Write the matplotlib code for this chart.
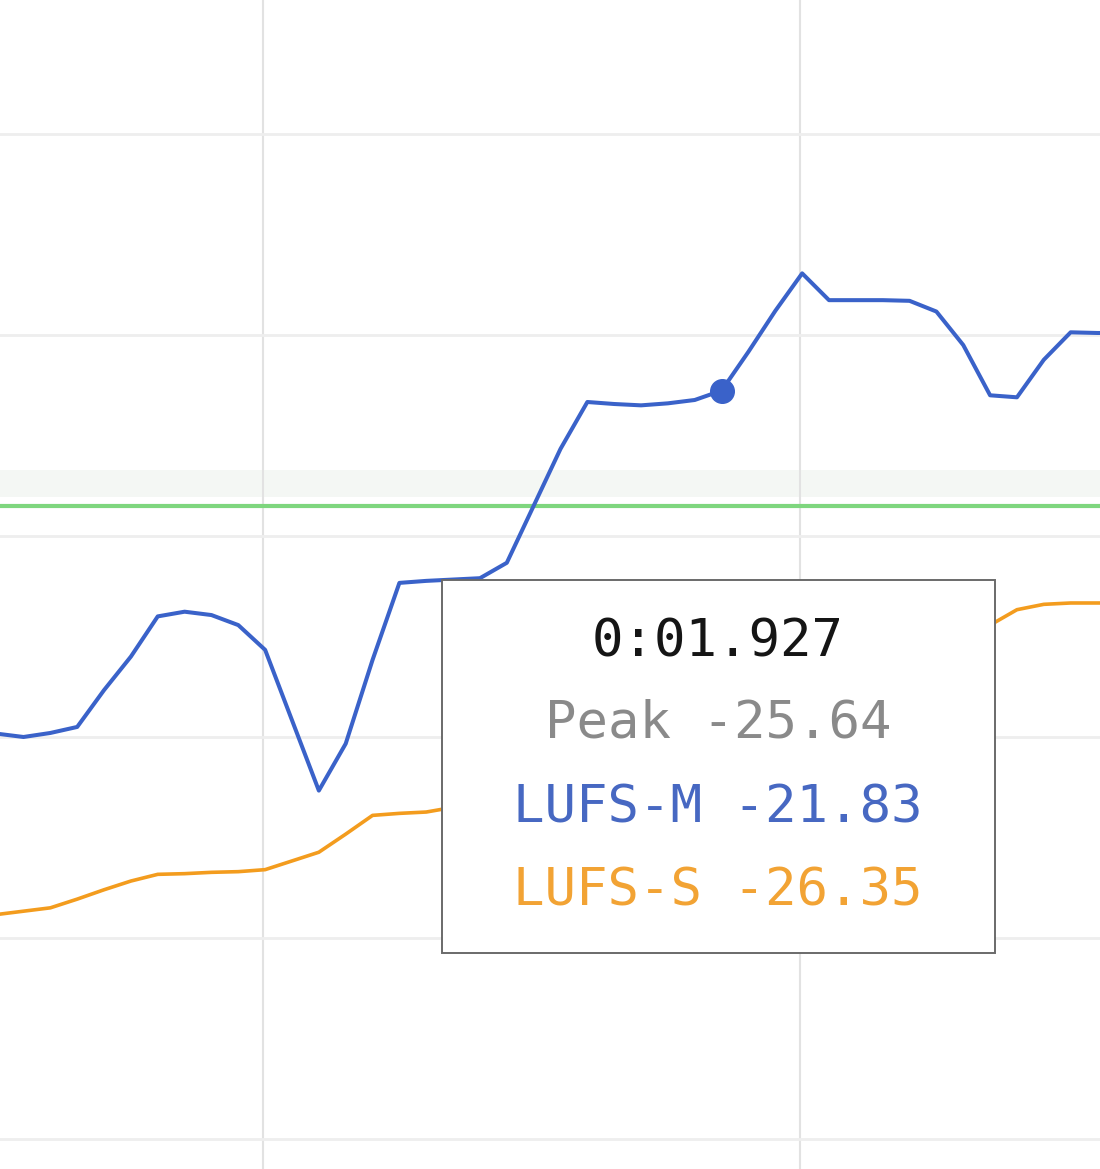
import matplotlib
matplotlib.use("Agg")
import matplotlib.pyplot as plt
from matplotlib.patches import Rectangle
import numpy as np

# ---- data ----
t_start = 1.252
step = 0.025
lufs_m = [-26.95, -27.00, -26.94, -26.85, -26.30, -25.80, -25.20, -25.13, -25.18, -25.33,
          -25.70, -26.75, -27.80, -27.10, -25.85, -24.70, -24.67, -24.65, -24.63, -24.40,
          -23.55, -22.70, -22.00, -22.03, -22.05, -22.02, -21.97, -21.83, -21.25, -20.64,
          -20.08, -20.48, -20.48, -20.48, -20.49, -20.65, -21.15, -21.90, -21.93, -21.37,
          -20.96, -20.97, -20.97]
lufs_s = [-29.65, -29.60, -29.55, -29.42, -29.28, -29.15, -29.05, -29.04, -29.02, -29.01,
          -28.98, -28.85, -28.72, -28.45, -28.17, -28.14, -28.12, -28.05, -27.85, -27.60,
          -27.35, -27.10, -26.85, -26.70, -26.60, -26.50, -26.42, -26.35, -26.20, -25.95,
          -25.75, -25.60, -25.50, -25.45, -25.42, -25.40, -25.35, -25.33, -25.10, -25.02,
          -25.00, -25.00, -25.00]
times = [round(t_start + step * i, 3) for i in range(len(lufs_m))]

target = -23.55
band = (-23.42, -23.02)
x_grid = [1.5, 2.0]
y_grid = [-18, -21, -24, -27, -30, -33]
xlim = (1.25512, 2.27933)
ylim = (-33.448, -16.0)

hover_time = 1.927
hover_label = "0:01.927"
peak_value = -25.64
m_value = -21.83
s_value = -26.35

# ---- figure ----
fig = plt.figure(figsize=(11, 11.69), dpi=100)
ax = fig.add_axes([0, 0, 1, 1])
ax.set_xlim(*xlim)
ax.set_ylim(*ylim)
ax.axis("off")

ax.axhspan(band[0], band[1], color="#f4f7f4", lw=0, zorder=0.5)
for x in x_grid:
    ax.axvline(x, color="#e2e2e2", lw=1.5, zorder=1)
for y in y_grid:
    ax.axhline(y, color="#eeeeee", lw=2.0, zorder=1)

ax.axhline(target, color="#7ed67e", lw=3.0, zorder=2)

ax.plot(times, lufs_s, color="#f39c1e", lw=2.6, solid_joinstyle="round", zorder=3)
ax.plot(times, lufs_m, color="#3a62c9", lw=2.9, solid_joinstyle="round", zorder=4)
ax.plot([hover_time], [m_value], "o", color="#3a62c9", ms=17, zorder=5)

# tooltip
box = Rectangle((0.4018, 0.1848), 0.5027, 0.3190, transform=ax.transAxes,
                facecolor="white", edgecolor="#6a6a6a", lw=1.4, zorder=10)
ax.add_patch(box)
cx = 0.6527
fs = 37.7
mono = ["DejaVu Sans Mono"]
ax.text(cx, 0.4380, hover_label, transform=ax.transAxes, ha="center", va="baseline",
        fontsize=fs, family=mono, color="#151515", zorder=11)
ax.text(cx, 0.3687, f"Peak {peak_value:.2f}", transform=ax.transAxes, ha="center",
        va="baseline", fontsize=fs, family=mono, color="#8a8a8a", zorder=11)
ax.text(cx, 0.2968, f"LUFS-M {m_value:.2f}", transform=ax.transAxes, ha="center",
        va="baseline", fontsize=fs, family=mono, color="#4768c2", zorder=11)
ax.text(cx, 0.2258, f"LUFS-S {s_value:.2f}", transform=ax.transAxes, ha="center",
        va="baseline", fontsize=fs, family=mono, color="#f2a334", zorder=11)

fig.savefig("out.png", dpi=100)
